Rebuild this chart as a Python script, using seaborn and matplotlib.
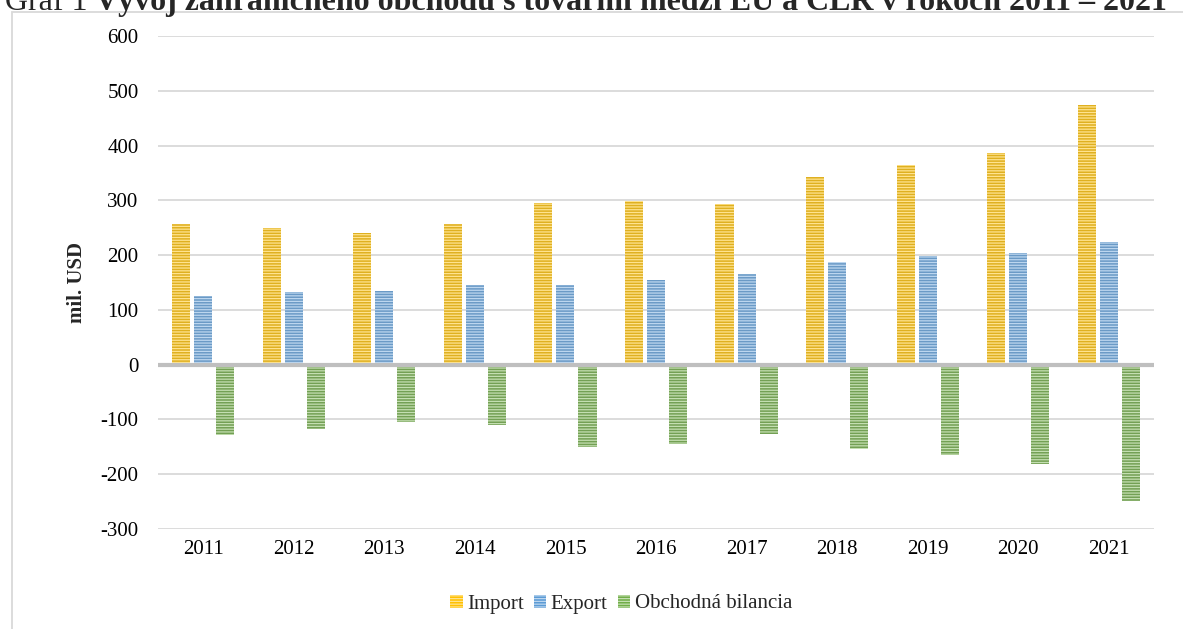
import pandas as pd
import matplotlib.pyplot as plt
import seaborn as sns
from matplotlib.patches import Rectangle, Patch

# Data (mil. USD)
years = ['2011', '2012', '2013', '2014', '2015', '2016', '2017', '2018', '2019', '2020', '2021']
import_vals = [257, 250, 240, 257, 296, 299, 294, 343, 365, 386, 474]
export_vals = [126, 132, 134, 145, 146, 154, 166, 188, 199, 203, 224]
balance_vals = [-128, -118, -104, -111, -150, -144, -127, -154, -165, -182, -249]
series_names = ['Import', 'Export', 'Obchodná bilancia']

colors = ['#FFC000', '#5B9BD5', '#70AD47']
stripe_colors = ['#FFE38F', '#BCD6EF', '#C4DFB2']

df = pd.DataFrame({
    'year': years * 3,
    'value': import_vals + export_vals + balance_vals,
    'series': [series_names[0]] * 11 + [series_names[1]] * 11 + [series_names[2]] * 11,
})

sns.set_style('white')
plt.rcParams['font.family'] = ['Liberation Serif', 'DejaVu Serif']
plt.rcParams['hatch.linewidth'] = 0.9
plt.rcParams['axes.unicode_minus'] = False

fig = plt.figure(figsize=(11.83, 6.29), dpi=100)
ax = fig.add_axes([158 / 1183, 1 - 529 / 629, (1154 - 158) / 1183, (529 - 36) / 629])

# outer chart frame
fig.patches.append(Rectangle((12 / 1183, -0.1), 1.2, 1 - 12 / 629 + 0.1,
                             transform=fig.transFigure, fill=False,
                             edgecolor='#D9D9D9', linewidth=1.3))

sns.barplot(data=df, x='year', y='value', hue='series', palette=colors,
            width=0.73, gap=0.18, ax=ax, legend=False, zorder=3)

# horizontal stripe fill
n = len(years)
for i, p in enumerate(ax.patches[:3 * n]):
    k = i // n
    p.set_hatch('------')
    p.set_edgecolor(stripe_colors[k])
    p.set_linewidth(0)

ax.set_ylim(-300, 600)
ax.set_yticks(range(-300, 601, 100))
ax.yaxis.grid(True, color='#D9D9D9', linewidth=1.3, zorder=0)
ax.set_axisbelow(True)
ax.axhline(0, color='#BFBFBF', linewidth=3, zorder=4)
for s in ax.spines.values():
    s.set_visible(False)
ax.tick_params(axis='both', length=0, labelsize=15, colors='black')
ax.tick_params(axis='x', pad=8)
ax.tick_params(axis='y', pad=14)
ax.set_xlabel('')
ax.set_ylabel('mil. USD', fontsize=15, fontweight='bold', labelpad=10)
ax.set_xlim(-0.5, n - 0.5)

handles = [Patch(facecolor=c, edgecolor=sc, hatch='------', linewidth=0)
           for c, sc in zip(colors, stripe_colors)]
fig.legend(handles, series_names, loc='center', bbox_to_anchor=(0.525, 1 - 604 / 629),
           ncol=3, frameon=False, fontsize=15, handlelength=0.6, handleheight=0.6,
           handletextpad=0.2, columnspacing=0.5)

# title, cropped at the top of the image
t1 = fig.text(0.004, 1 - 10 / 629, 'Graf 1 ', fontsize=23, va='baseline', ha='left')
fig.canvas.draw()
bb = t1.get_window_extent()
fig.text(bb.x1 / 1183, 1 - 10 / 629,
         'Vývoj zahraničného obchodu s tovarmi medzi EÚ a ČĽR v rokoch 2011 – 2021',
         fontsize=23, fontweight='bold', va='baseline', ha='left')

fig.savefig('out.png', dpi=100)
